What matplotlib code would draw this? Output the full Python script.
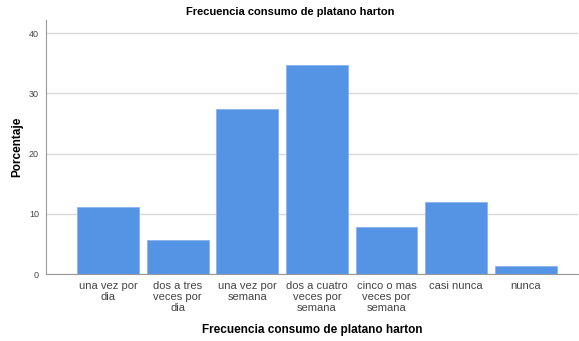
import matplotlib
matplotlib.use("Agg")
import matplotlib.pyplot as plt
import numpy as np

plt.rcParams['font.family'] = ['Liberation Sans', 'DejaVu Sans']

categorias = ["una vez por\ndia", "dos a tres\nveces por\ndia", "una vez por\nsemana",
              "dos a cuatro\nveces por\nsemana", "cinco o mas\nveces por\nsemana",
              "casi nunca", "nunca"]
porcentaje = [11.1, 5.6, 27.4, 34.8, 7.8, 11.9, 1.4]

fig = plt.figure(figsize=(5.79, 3.41), dpi=100)
ax = fig.add_axes([46 / 579, 1 - 274 / 341, (578 - 46) / 579, (274 - 20) / 341])

x = np.arange(len(categorias))
ax.bar(x, porcentaje, width=0.89, color="#5593e5", edgecolor="#8ab4ee", linewidth=0.6, zorder=3)

ax.set_xlim(-0.89, 6.75)
ax.set_ylim(0, 42.2)
ax.set_yticks([0, 10, 20, 30, 40])
ax.set_xticks(x)
ax.set_xticklabels(categorias, fontsize=8, color="#444444", linespacing=1.12)
ax.tick_params(axis="y", labelsize=6.5, colors="#444444", length=0, pad=5)
ax.tick_params(axis="x", length=0, pad=5)
ax.yaxis.grid(True, color="#d9d9d9", linewidth=1, zorder=0)
for s in ["top", "right"]:
    ax.spines[s].set_visible(False)
ax.spines["left"].set_color("#999999")
ax.spines["bottom"].set_color("#999999")
ax.spines["left"].set_linewidth(0.8)
ax.spines["bottom"].set_linewidth(0.8)

ax.set_ylabel("Porcentaje", fontsize=8.5, fontweight="bold", labelpad=4)
ax.set_xlabel("Frecuencia consumo de platano harton", fontsize=8.5, fontweight="bold", labelpad=8)
fig.text(290 / 579, 1 - 12 / 341, "Frecuencia consumo de platano harton", fontsize=8,
         fontweight="bold", ha="center", va="center")

fig.savefig("out.png", dpi=100)
